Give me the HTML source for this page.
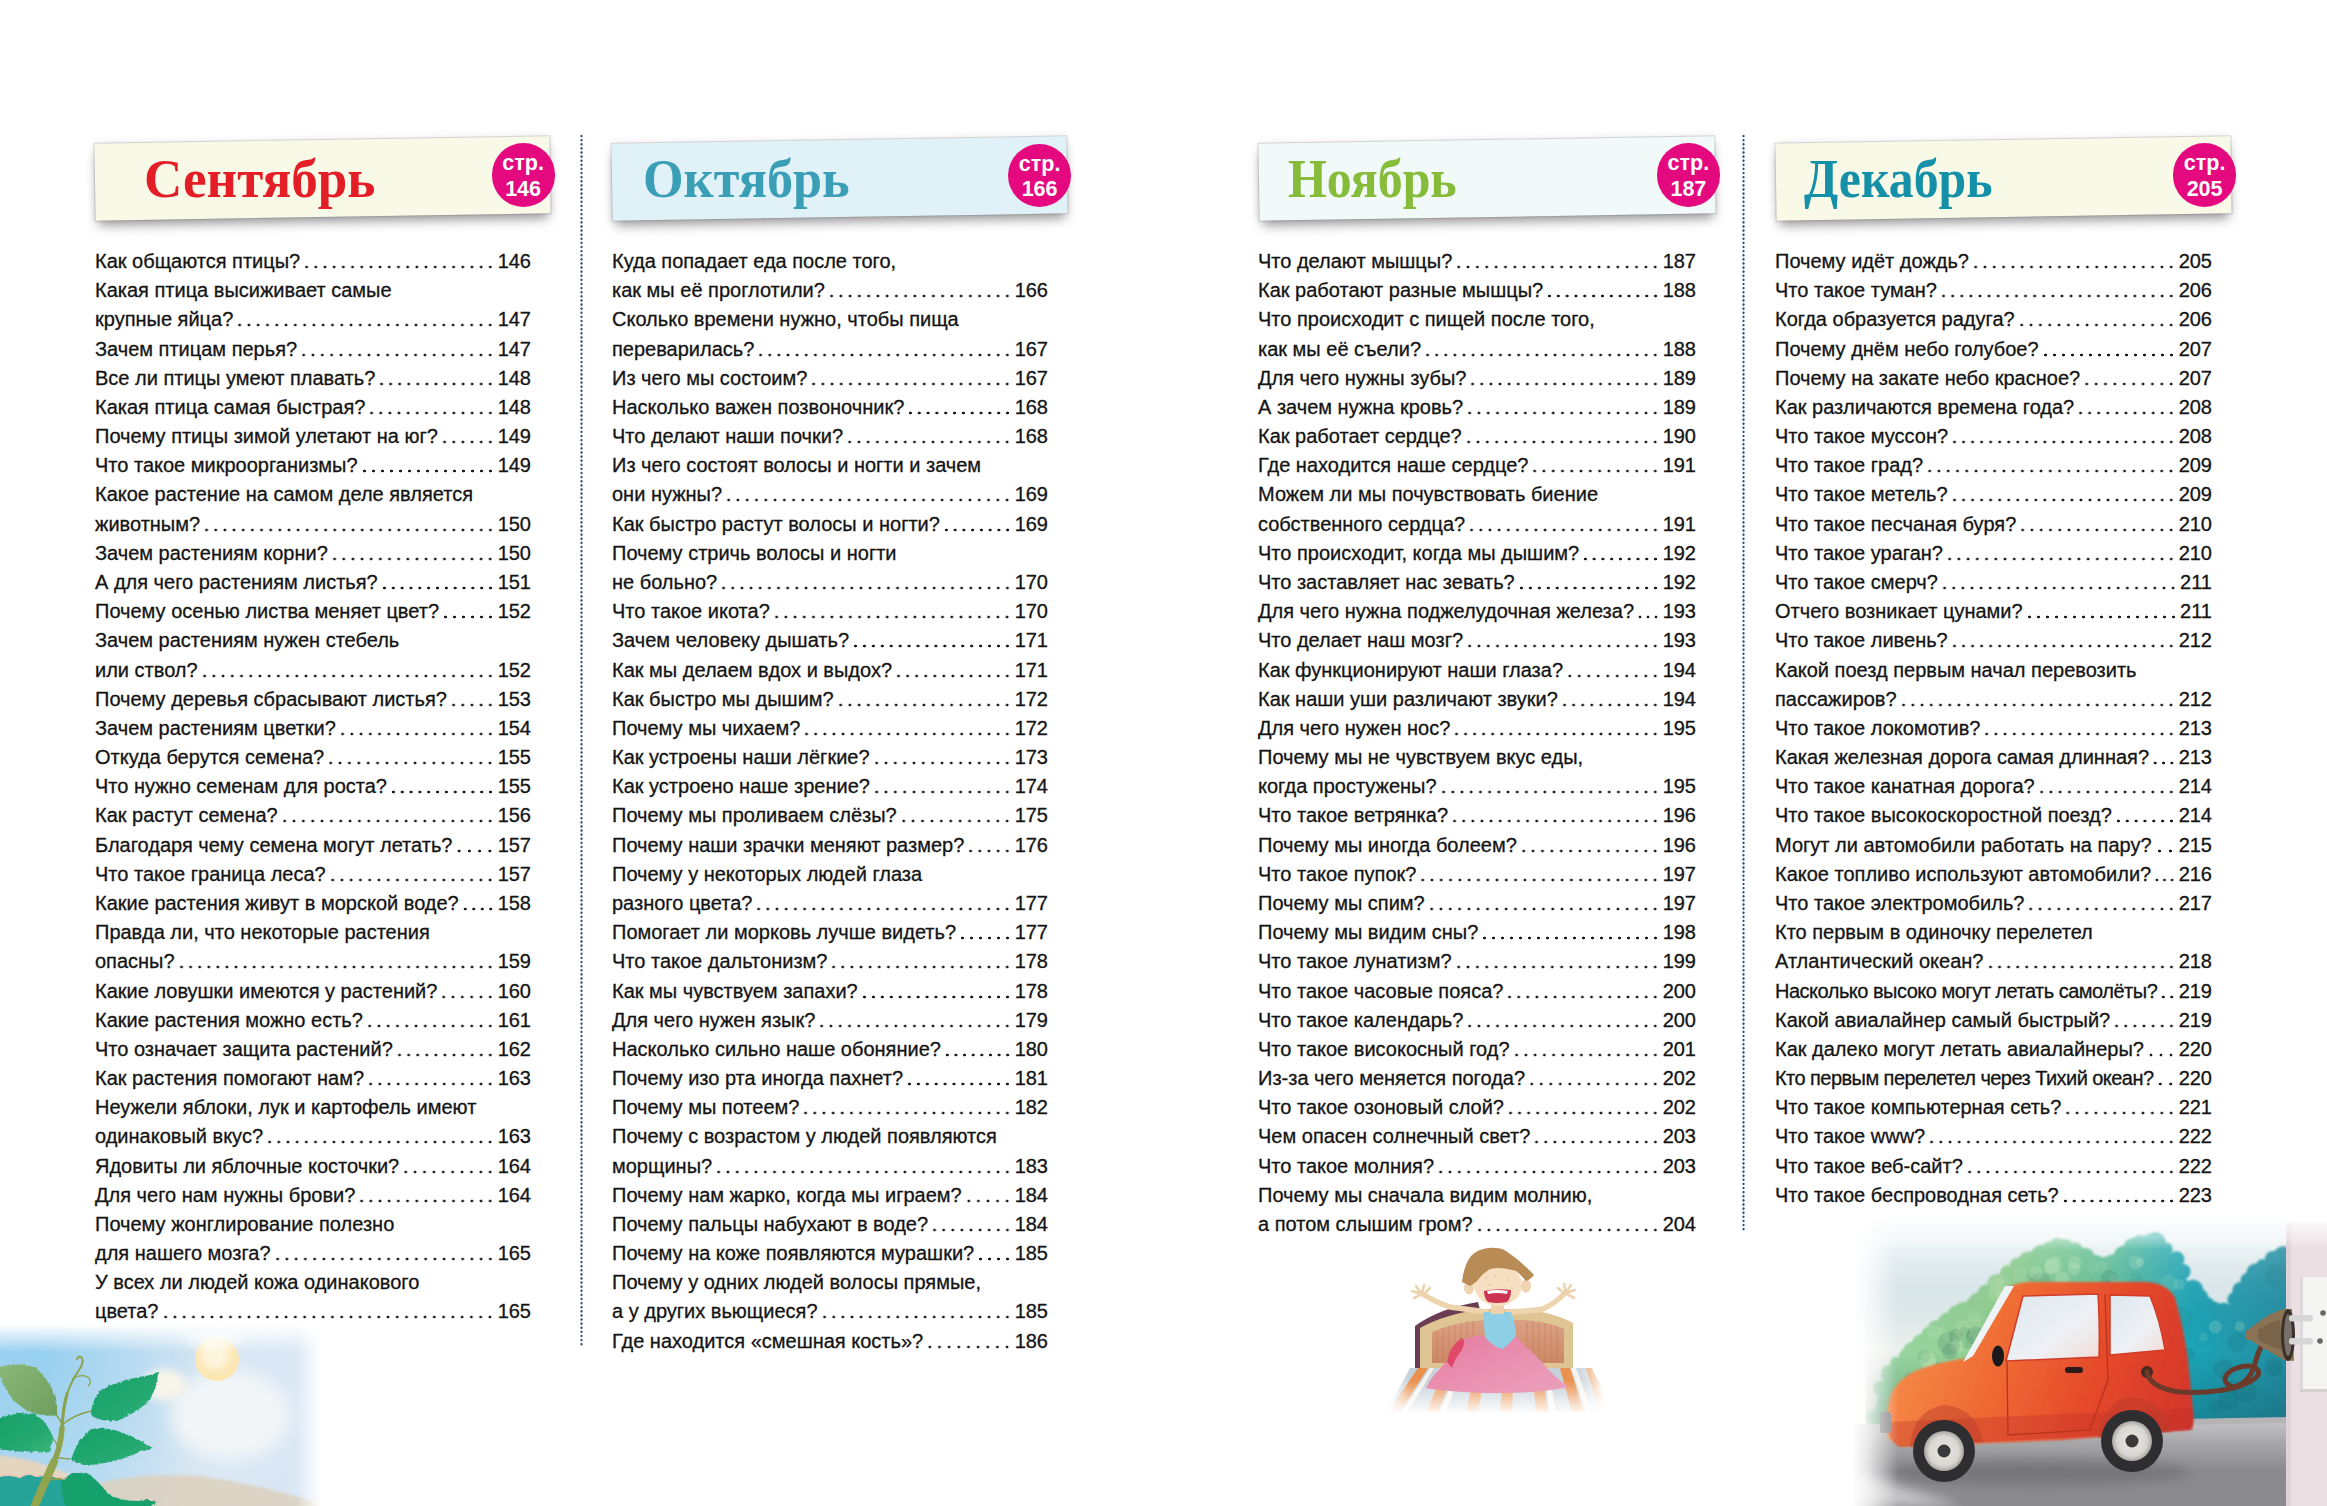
<!DOCTYPE html>
<html><head><meta charset="utf-8">
<style>
html,body{margin:0;padding:0;}
body{width:2327px;height:1506px;overflow:hidden;position:relative;background:#fff;font-family:"Liberation Sans",sans-serif;}
.r{position:absolute;height:29.18px;line-height:29.18px;display:flex;font-size:20px;color:#141414;white-space:nowrap;}
.t{flex:none;-webkit-text-stroke:0.3px #141414;position:relative;z-index:1;}

.d{flex:1;margin:0 2.5px 0 2px;background-image:radial-gradient(circle at center, #1a1a1a 0, #1a1a1a 1.1px, rgba(0,0,0,0) 1.7000000000000002px);background-size:9.2px 4px;background-repeat:round no-repeat;background-position:left 0 top 18px;}
.n{flex:none;-webkit-text-stroke:0.3px #141414;}
.bn{position:absolute;transform:rotate(-0.92deg);box-shadow:0 8px 12px -3px rgba(0,0,0,0.38), 0 0 9px rgba(0,0,0,0.10);outline:1px solid rgba(120,120,120,0.25);}
.tt{position:absolute;font-family:"Liberation Serif",serif;font-weight:bold;line-height:1;transform-origin:0 0;white-space:nowrap;}
.ci{position:absolute;width:63.2px;height:63.2px;border-radius:50%;background:#e5097f;color:#fff;}
.ci span{position:absolute;left:0;width:100%;text-align:center;font-size:21.5px;line-height:1;font-weight:bold;}
.c1{top:10px;}
.c2{top:35.6px;}
.sep{position:absolute;width:3px;background-image:radial-gradient(circle at center,#34506c 0,#34506c 0.8px,rgba(52,80,108,0) 1.5px);background-size:3px 4.12px;background-repeat:repeat-y;}
</style></head><body>
<svg style="position:absolute;left:0;top:1300px" width="340" height="206" viewBox="0 1300 340 206">
<defs>
<filter id="pb8" x="-50%" y="-50%" width="200%" height="200%"><feGaussianBlur stdDeviation="8"/></filter>
<filter id="pb4" x="-50%" y="-50%" width="200%" height="200%"><feGaussianBlur stdDeviation="4"/></filter>
<filter id="pb2" x="-50%" y="-50%" width="200%" height="200%"><feGaussianBlur stdDeviation="1.5"/></filter>
<filter id="pb1" x="-50%" y="-50%" width="200%" height="200%"><feGaussianBlur stdDeviation="0.6"/></filter>
<linearGradient id="psky" x1="0" y1="0" x2="1" y2="0">
<stop offset="0" stop-color="#a6d6f0"/><stop offset="0.35" stop-color="#c4e0f2"/><stop offset="0.6" stop-color="#dce8f2"/><stop offset="0.85" stop-color="#d8e6f4"/><stop offset="1" stop-color="#e0ecf6"/>
</linearGradient>
<linearGradient id="pleafA" x1="0" y1="0" x2="1" y2="1">
<stop offset="0" stop-color="#8ab87a"/><stop offset="1" stop-color="#6d9e5e"/>
</linearGradient>
<linearGradient id="pleaf" x1="0" y1="0" x2="1" y2="1">
<stop offset="0" stop-color="#17a06a"/><stop offset="0.6" stop-color="#22a86f"/><stop offset="1" stop-color="#3cb47c"/>
</linearGradient>
<linearGradient id="ptopfade" gradientUnits="userSpaceOnUse" x1="0" y1="1324" x2="0" y2="1352">
<stop offset="0" stop-color="#fff" stop-opacity="1"/><stop offset="1" stop-color="#fff" stop-opacity="0"/>
</linearGradient>
<linearGradient id="prightfade" gradientUnits="userSpaceOnUse" x1="296" y1="0" x2="322" y2="0">
<stop offset="0" stop-color="#fff" stop-opacity="0"/><stop offset="1" stop-color="#fff" stop-opacity="1"/>
</linearGradient>
<radialGradient id="psky2" gradientUnits="userSpaceOnUse" cx="40" cy="1360" r="280">
<stop offset="0" stop-color="#8ccbee" stop-opacity="0.7"/><stop offset="0.5" stop-color="#a8d4f0" stop-opacity="0.25"/><stop offset="1" stop-color="#ffffff" stop-opacity="0"/>
</radialGradient>
<filter id="pjag" x="-10%" y="-10%" width="120%" height="120%"><feTurbulence type="turbulence" baseFrequency="0.18" numOctaves="1" seed="4" result="t"/><feDisplacementMap in="SourceGraphic" in2="t" scale="3" xChannelSelector="R" yChannelSelector="G"/></filter>
</defs>
<!-- sky -->
<rect x="0" y="1324" width="330" height="190" fill="url(#psky)"/>
<rect x="0" y="1324" width="330" height="190" fill="url(#psky2)"/>
<ellipse cx="230" cy="1415" rx="60" ry="45" fill="#f2f5f7" filter="url(#pb8)"/>
<ellipse cx="165" cy="1385" rx="22" ry="16" fill="#f8f5ea" filter="url(#pb4)"/>
<circle cx="217" cy="1359" r="22" fill="#fbe6b0" filter="url(#pb1)"/>
<circle cx="215" cy="1355" r="15" fill="#fdf5de" filter="url(#pb4)"/>
<ellipse cx="215" cy="1338" rx="30" ry="8" fill="#fff" opacity="0.6" filter="url(#pb4)"/>
<!-- hills -->
<path d="M-5 1455 Q 40 1458 80 1480 L 100 1506 L -5 1506 Z" fill="#e4d5bf" filter="url(#pb2)"/>
<path d="M96 1484 Q 140 1472 200 1476 Q 260 1484 320 1504 L 320 1510 L 96 1510 Z" fill="#ddd1be" opacity="0.85" filter="url(#pb2)"/>
<!-- grass -->
<path d="M-5 1478 Q 10 1474 20 1478 Q 28 1472 36 1477 Q 50 1474 62 1480 Q 70 1495 72 1506 L -5 1506 Z" fill="#25a49a" filter="url(#pb1)"/>
<path d="M-5 1476 Q 10 1473 20 1477 Q 28 1471 36 1476 Q 50 1473 62 1479" fill="none" stroke="#e8c9b8" stroke-width="2" filter="url(#pb1)"/>
<rect x="0" y="1318" width="340" height="36" fill="url(#ptopfade)"/>
<rect x="290" y="1300" width="50" height="210" fill="url(#prightfade)"/>
<!-- stem -->
<path d="M33 1510 Q 44 1484 54 1462" fill="none" stroke="#93a64e" stroke-width="8" stroke-linecap="round"/>
<path d="M54 1462 Q 61 1446 62 1428" fill="none" stroke="#90a44d" stroke-width="5.5" stroke-linecap="round"/>
<path d="M62 1428 Q 63 1408 67 1394" fill="none" stroke="#8da24c" stroke-width="3.2" stroke-linecap="round"/>
<path d="M67 1394 Q 72 1380 79 1370 Q 84 1363 82 1358 Q 79 1355 77 1359" fill="none" stroke="#8da24c" stroke-width="2" stroke-linecap="round"/>
<path d="M63 1424 Q 74 1415 91 1411" fill="none" stroke="#8da24c" stroke-width="1.6"/>
<path d="M63 1426 Q 59 1418 55 1413" fill="none" stroke="#8da24c" stroke-width="1.6"/>
<path d="M72 1379 Q 82 1373 89 1378 Q 92 1383 88 1386" fill="none" stroke="#8da24c" stroke-width="1.2"/>
<path d="M55 1458 Q 62 1458 70 1459" fill="none" stroke="#8da24c" stroke-width="1.6"/>
<path d="M44 1482 Q 52 1478 62 1479" fill="none" stroke="#8da24c" stroke-width="1.8"/>
<path d="M60 1452 Q 56 1440 50 1436" fill="none" stroke="#8da24c" stroke-width="1.3"/>
<!-- leaf A -->
<path d="M-2 1366 Q 14 1360 35 1367 Q 49 1380 55 1397 Q 57 1410 56 1414 Q 46 1416 28 1411 Q 9 1400 3 1384 Q 0 1377 -2 1374 Z" fill="url(#pleafA)" filter="url(#pjag)"/>
<!-- leaf C -->
<path d="M-2 1418 Q 13 1411 33 1413 Q 46 1420 52 1436 Q 51 1446 49 1451 Q 33 1452 11 1450 Q 3 1449 -2 1447 Z" fill="url(#pleaf)" filter="url(#pjag)"/>
<!-- leaf B -->
<path d="M90 1412 Q 91 1398 100 1389 Q 116 1380 138 1376 Q 150 1374 157 1371 Q 157 1388 146 1402 Q 133 1413 116 1420 Q 100 1421 91 1415 Z" fill="url(#pleaf)" filter="url(#pjag)"/>
<!-- leaf D -->
<path d="M70 1459 Q 75 1440 90 1428 Q 110 1425 132 1436 Q 143 1442 152 1447 Q 138 1451 121 1458 Q 99 1464 83 1464 Q 74 1462 70 1459 Z" fill="url(#pleaf)" filter="url(#pjag)"/>
<!-- leaf E -->
<path d="M60 1480 Q 70 1470 86 1472 Q 98 1480 106 1492 Q 118 1500 136 1500 Q 148 1498 156 1500 Q 150 1504 146 1510 L 66 1510 Q 60 1496 60 1480 Z" fill="#17a06c" filter="url(#pjag)"/>
</svg>
<svg style="position:absolute;left:1370px;top:1230px" width="250" height="200" viewBox="1370 1230 250 200">
<defs>
<filter id="kb1" x="-50%" y="-50%" width="200%" height="200%"><feGaussianBlur stdDeviation="0.6"/></filter>
<filter id="kb2" x="-50%" y="-50%" width="200%" height="200%"><feGaussianBlur stdDeviation="1.5"/></filter>
<linearGradient id="kfade" gradientUnits="userSpaceOnUse" x1="0" y1="1380" x2="0" y2="1415">
<stop offset="0" stop-color="#fff" stop-opacity="0"/><stop offset="1" stop-color="#fff" stop-opacity="1"/>
</linearGradient>
<linearGradient id="kfadeL" gradientUnits="userSpaceOnUse" x1="1385" y1="0" x2="1410" y2="0">
<stop offset="0" stop-color="#fff" stop-opacity="1"/><stop offset="1" stop-color="#fff" stop-opacity="0"/>
</linearGradient>
<linearGradient id="kfadeR" gradientUnits="userSpaceOnUse" x1="1575" y1="0" x2="1605" y2="0">
<stop offset="0" stop-color="#fff" stop-opacity="0"/><stop offset="1" stop-color="#fff" stop-opacity="1"/>
</linearGradient>
<linearGradient id="kpink" x1="0" y1="0" x2="1" y2="1">
<stop offset="0" stop-color="#e47aa0"/><stop offset="0.6" stop-color="#ea94b2"/><stop offset="1" stop-color="#eaa0ba"/>
</linearGradient>
<linearGradient id="kpanel" x1="0" y1="0" x2="0" y2="1">
<stop offset="0" stop-color="#dca184"/><stop offset="1" stop-color="#cc8866"/>
</linearGradient>
</defs>
<!-- floor -->
<g filter="url(#kb1)">
<path d="M1410 1368 L1590 1368 L1602 1385 L1600 1412 L1386 1412 Z" fill="#c6d1d9"/>
<path d="M1418 1368 L1428 1368 L1400 1412 L1388 1412 Z" fill="#e9914e"/>
<path d="M1430 1368 L1434 1368 L1408 1412 L1402 1412 Z" fill="#f6f3ec"/>
<path d="M1446 1368 L1456 1368 L1438 1412 L1426 1412 Z" fill="#e9914e"/>
<path d="M1458 1368 L1462 1368 L1446 1412 L1440 1412 Z" fill="#f6f3ec"/>
<path d="M1476 1368 L1486 1368 L1478 1412 L1466 1412 Z" fill="#e9914e"/>
<path d="M1504 1368 L1514 1368 L1512 1412 L1500 1412 Z" fill="#e9914e"/>
<path d="M1532 1368 L1542 1368 L1548 1412 L1536 1412 Z" fill="#e9914e"/>
<path d="M1543 1368 L1548 1368 L1556 1412 L1550 1412 Z" fill="#f6f3ec"/>
<path d="M1560 1368 L1570 1368 L1584 1412 L1572 1412 Z" fill="#e9914e"/>
<path d="M1571 1368 L1576 1368 L1592 1412 L1586 1412 Z" fill="#f6f3ec"/>
<path d="M1586 1368 L1592 1368 L1606 1400 L1600 1412 Z" fill="#e9914e"/>
</g>
<rect x="1380" y="1375" width="235" height="45" fill="url(#kfade)"/>
<rect x="1380" y="1360" width="35" height="60" fill="url(#kfadeL)"/>
<rect x="1570" y="1360" width="45" height="60" fill="url(#kfadeR)"/>
<!-- headboard -->
<g filter="url(#kb1)">
<path d="M1415 1368 L1415 1326 Q 1440 1308 1478 1302 L 1480 1310 Q 1445 1316 1421 1330 L 1421 1368 Z" fill="#6b3c52"/>
<path d="M1420 1368 L1420 1328 Q 1445 1314 1483 1309 L 1523 1309 Q 1555 1313 1573 1323 L 1573 1368 Z" fill="#dec593"/>
<path d="M1432 1363 L1432 1332 Q 1455 1322 1485 1320 L 1522 1320 Q 1550 1322 1564 1329 L 1564 1363 Z" fill="url(#kpanel)"/>
<g stroke="#c07858" stroke-width="1" opacity="0.5">
<line x1="1437" y1="1331" x2="1437" y2="1362"/><line x1="1443" y1="1328" x2="1443" y2="1362"/><line x1="1449" y1="1326" x2="1449" y2="1362"/><line x1="1455" y1="1325" x2="1455" y2="1362"/><line x1="1461" y1="1323" x2="1461" y2="1362"/><line x1="1467" y1="1322" x2="1467" y2="1362"/><line x1="1473" y1="1321" x2="1473" y2="1362"/>
<line x1="1527" y1="1321" x2="1527" y2="1362"/><line x1="1533" y1="1321" x2="1533" y2="1362"/><line x1="1539" y1="1322" x2="1539" y2="1362"/><line x1="1545" y1="1323" x2="1545" y2="1362"/><line x1="1551" y1="1324" x2="1551" y2="1362"/><line x1="1557" y1="1326" x2="1557" y2="1362"/>
</g>
</g>
<!-- arms -->
<g filter="url(#kb1)" stroke="#eed4ae" stroke-linecap="round" fill="none">
<path d="M1486 1312 Q 1465 1309 1450 1307 Q 1435 1302 1421 1293" stroke-width="5.5"/>
<path d="M1508 1312 Q 1530 1311 1543 1309 Q 1556 1303 1566 1292" stroke-width="5.5"/>
<path d="M1421 1294 L1416 1286 M1421 1294 L1412 1291 M1422 1294 L1424 1285 M1423 1295 L1430 1288 M1420 1295 L1414 1298" stroke-width="2.6"/>
<path d="M1566 1293 L1564 1284 M1566 1293 L1571 1285 M1566 1293 L1575 1290 M1565 1294 L1558 1288 M1567 1294 L1574 1298" stroke-width="2.6"/>
</g>
<!-- torso -->
<path d="M1483 1312 L1511 1312 Q 1516 1325 1516 1338 L 1502 1350 Q 1488 1345 1485 1338 Z" fill="#8ecfe6" filter="url(#kb1)"/>
<rect x="1491" y="1300" width="13" height="14" fill="#efd2ac"/>
<!-- blanket -->
<path d="M1426 1388 Q 1432 1376 1440 1369 Q 1447 1360 1453 1354 Q 1457 1344 1465 1339 Q 1476 1335 1484 1336 Q 1494 1348 1503 1349 Q 1510 1344 1516 1336 Q 1523 1345 1530 1350 Q 1540 1360 1549 1370 Q 1558 1380 1569 1387 Q 1540 1393 1500 1393 Q 1455 1393 1426 1388 Z" fill="url(#kpink)" filter="url(#kb1)"/>
<path d="M1447 1362 Q 1450 1345 1462 1338 Q 1466 1340 1462 1350 Q 1455 1358 1452 1368 Z" fill="#e0486a" filter="url(#kb1)"/>
<!-- ears -->
<ellipse cx="1469" cy="1288" rx="5" ry="6.5" fill="#f0d4b0"/>
<ellipse cx="1526" cy="1286" rx="5" ry="6.5" fill="#f0d4b0"/>
<!-- face -->
<ellipse cx="1498" cy="1285" rx="24" ry="21" fill="#f5dfc0" filter="url(#kb1)"/>
<!-- hair -->
<path d="M1462 1282 Q 1464 1265 1471 1256 Q 1478 1249 1488 1248 Q 1500 1247 1506 1251 Q 1520 1260 1534 1275 Q 1530 1280 1526 1281 Q 1520 1274 1516 1271 Q 1500 1266 1490 1269 Q 1482 1274 1478 1280 Q 1474 1284 1470 1286 Z" fill="#b98b55" filter="url(#kb1)"/>
<!-- spots -->
<g fill="#d8a888" opacity="0.6"><circle cx="1486" cy="1278" r="0.9"/><circle cx="1495" cy="1276" r="0.9"/><circle cx="1508" cy="1280" r="0.9"/><circle cx="1490" cy="1285" r="0.9"/><circle cx="1512" cy="1288" r="0.9"/></g>
<!-- mouth -->
<path d="M1484 1291 Q 1497 1288 1511 1290 Q 1511 1298 1507 1302 Q 1497 1304 1488 1302 Q 1484 1298 1484 1291 Z" fill="#cc3350"/>
<path d="M1487 1291 Q 1497 1289 1508 1291 L 1507 1294 Q 1497 1292 1488 1294 Z" fill="#fafafa"/>
</svg>
<svg style="position:absolute;left:1840px;top:1200px" width="487" height="306" viewBox="1840 1200 487 306">
<defs>
<filter id="cb1" x="-20%" y="-20%" width="140%" height="140%"><feGaussianBlur stdDeviation="0.8"/></filter>
<filter id="cb2" x="-20%" y="-20%" width="140%" height="140%"><feGaussianBlur stdDeviation="1.5"/></filter>
<filter id="cb6" x="-50%" y="-50%" width="200%" height="200%"><feGaussianBlur stdDeviation="6"/></filter>
<linearGradient id="csky" x1="0" y1="0" x2="0" y2="1">
<stop offset="0" stop-color="#f0f5f6"/><stop offset="0.25" stop-color="#e2eef2"/><stop offset="0.5" stop-color="#eef2ec"/><stop offset="0.8" stop-color="#f2f1e4"/><stop offset="1" stop-color="#eeeee4"/>
</linearGradient>
<linearGradient id="ctrees" gradientUnits="userSpaceOnUse" x1="1880" y1="0" x2="2290" y2="0">
<stop offset="0" stop-color="#9ad6a4"/><stop offset="0.3" stop-color="#92d08e"/><stop offset="0.55" stop-color="#62c096"/><stop offset="0.75" stop-color="#1ea6b8"/><stop offset="1" stop-color="#248da2"/>
</linearGradient>
<linearGradient id="ctreesv" gradientUnits="userSpaceOnUse" x1="0" y1="1240" x2="0" y2="1425">
<stop offset="0" stop-color="#ffffff" stop-opacity="0.2"/><stop offset="0.6" stop-color="#0a3a44" stop-opacity="0.0"/><stop offset="1" stop-color="#0a3a44" stop-opacity="0.3"/>
</linearGradient>
<linearGradient id="croad" gradientUnits="userSpaceOnUse" x1="0" y1="1420" x2="0" y2="1506">
<stop offset="0" stop-color="#c6c6c8"/><stop offset="0.25" stop-color="#a8a8aa"/><stop offset="0.6" stop-color="#8a8a8d"/><stop offset="1" stop-color="#8c8c8f"/>
</linearGradient>
<linearGradient id="cbody" gradientUnits="userSpaceOnUse" x1="1890" y1="1300" x2="2195" y2="1420">
<stop offset="0" stop-color="#f7934f"/><stop offset="0.35" stop-color="#f06d35"/><stop offset="0.7" stop-color="#e4472a"/><stop offset="1" stop-color="#d2352a"/>
</linearGradient>
<linearGradient id="cleft" gradientUnits="userSpaceOnUse" x1="1852" y1="0" x2="1898" y2="0">
<stop offset="0" stop-color="#fff" stop-opacity="1"/><stop offset="0.35" stop-color="#fff" stop-opacity="0.75"/><stop offset="1" stop-color="#fff" stop-opacity="0"/>
</linearGradient>
<linearGradient id="ctop" gradientUnits="userSpaceOnUse" x1="0" y1="1215" x2="0" y2="1250">
<stop offset="0" stop-color="#fff" stop-opacity="1"/><stop offset="1" stop-color="#fff" stop-opacity="0"/>
</linearGradient>
<radialGradient id="cwheel" cx="0.5" cy="0.5" r="0.5">
<stop offset="0" stop-color="#eceae4"/><stop offset="0.75" stop-color="#d8d6d0"/><stop offset="1" stop-color="#a8a6a0"/>
</radialGradient>
<linearGradient id="cwin" x1="0" y1="0" x2="1" y2="1">
<stop offset="0" stop-color="#dde8f0"/><stop offset="0.6" stop-color="#eef0f4"/><stop offset="1" stop-color="#f0dcd8"/>
</linearGradient>
</defs>
<rect x="1850" y="1215" width="440" height="291" fill="url(#csky)"/>
<g filter="url(#cb1)"><g fill="url(#ctrees)"><circle cx="1872.0" cy="1417.3" r="7.2"/><circle cx="1880.7" cy="1388.5" r="7.8"/><circle cx="1889.7" cy="1374.2" r="9.1"/><circle cx="1896.1" cy="1362.8" r="6.1"/><circle cx="1906.3" cy="1355.9" r="7.3"/><circle cx="1913.4" cy="1352.8" r="11.0"/><circle cx="1921.8" cy="1344.3" r="10.2"/><circle cx="1930.2" cy="1335.4" r="9.2"/><circle cx="1936.9" cy="1329.1" r="9.2"/><circle cx="1947.3" cy="1321.0" r="8.6"/><circle cx="1957.0" cy="1314.6" r="9.4"/><circle cx="1963.3" cy="1311.7" r="9.8"/><circle cx="1972.2" cy="1305.9" r="7.5"/><circle cx="1978.4" cy="1302.8" r="10.3"/><circle cx="1986.8" cy="1294.0" r="9.6"/><circle cx="1997.1" cy="1283.8" r="9.6"/><circle cx="2007.8" cy="1273.3" r="8.0"/><circle cx="2017.8" cy="1265.6" r="8.2"/><circle cx="2028.4" cy="1261.8" r="10.4"/><circle cx="2034.9" cy="1256.4" r="6.7"/><circle cx="2042.0" cy="1255.5" r="10.8"/><circle cx="2050.2" cy="1250.4" r="9.1"/><circle cx="2057.7" cy="1246.3" r="8.5"/><circle cx="2065.6" cy="1246.9" r="7.8"/><circle cx="2074.5" cy="1251.2" r="8.9"/><circle cx="2085.1" cy="1257.2" r="9.4"/><circle cx="2095.7" cy="1265.2" r="10.3"/><circle cx="2106.7" cy="1265.8" r="9.4"/><circle cx="2113.5" cy="1264.6" r="10.3"/><circle cx="2124.3" cy="1255.9" r="10.5"/><circle cx="2133.2" cy="1247.4" r="9.6"/><circle cx="2140.2" cy="1245.1" r="10.2"/><circle cx="2149.1" cy="1241.6" r="7.4"/><circle cx="2155.4" cy="1242.5" r="10.3"/><circle cx="2166.3" cy="1248.9" r="6.4"/><circle cx="2176.3" cy="1259.3" r="8.1"/><circle cx="2183.1" cy="1271.6" r="7.5"/><circle cx="2192.9" cy="1290.1" r="10.4"/><circle cx="2199.2" cy="1297.7" r="9.1"/><circle cx="2205.4" cy="1306.0" r="9.6"/><circle cx="2213.0" cy="1311.6" r="10.4"/><circle cx="2223.9" cy="1311.2" r="8.5"/><circle cx="2234.9" cy="1299.6" r="7.5"/><circle cx="2241.3" cy="1290.7" r="9.0"/><circle cx="2247.5" cy="1280.1" r="7.0"/><circle cx="2255.5" cy="1272.7" r="9.1"/><circle cx="2262.3" cy="1265.3" r="6.2"/><circle cx="2272.6" cy="1258.6" r="7.6"/><circle cx="2283.4" cy="1256.6" r="10.5"/><polygon points="1866,1430 1870,1426 1880,1391 1895,1366 1915,1351 1935,1331 1955,1316 1975,1306 1995,1286 2015,1268 2040,1256 2060,1246 2080,1254 2100,1268 2115,1264 2135,1246 2155,1242 2175,1258 2190,1286 2205,1306 2220,1316 2235,1301 2250,1278 2270,1261 2290,1254 2290,1430"/></g></g>
<g><circle cx="2024.7" cy="1294.6" r="9.6" fill="#0c4a50" opacity="0.06"/><circle cx="2106.3" cy="1328.2" r="5.4" fill="#0c4a50" opacity="0.10"/><circle cx="1914.4" cy="1386.3" r="5.5" fill="#0c4a50" opacity="0.06"/><circle cx="2063.4" cy="1391.7" r="5.9" fill="#0c4a50" opacity="0.07"/><circle cx="2141.6" cy="1411.3" r="9.0" fill="#0c4a50" opacity="0.09"/><circle cx="2275.9" cy="1275.0" r="11.0" fill="#0c4a50" opacity="0.08"/><circle cx="1955.5" cy="1336.0" r="7.2" fill="#0c4a50" opacity="0.13"/><circle cx="1969.6" cy="1377.2" r="9.5" fill="#0c4a50" opacity="0.09"/><circle cx="2110.9" cy="1283.3" r="5.4" fill="#0c4a50" opacity="0.07"/><circle cx="2162.0" cy="1326.4" r="7.2" fill="#0c4a50" opacity="0.11"/><circle cx="2074.5" cy="1308.5" r="10.6" fill="#0c4a50" opacity="0.12"/><circle cx="1994.0" cy="1367.2" r="8.7" fill="#0c4a50" opacity="0.14"/><circle cx="2180.8" cy="1318.8" r="11.9" fill="#0c4a50" opacity="0.06"/><circle cx="2061.0" cy="1380.0" r="6.1" fill="#0c4a50" opacity="0.10"/><circle cx="1915.1" cy="1400.1" r="10.4" fill="#0c4a50" opacity="0.11"/><circle cx="2237.1" cy="1342.3" r="9.9" fill="#0c4a50" opacity="0.11"/><circle cx="2123.3" cy="1336.0" r="10.9" fill="#0c4a50" opacity="0.14"/><circle cx="2082.5" cy="1367.9" r="5.4" fill="#0c4a50" opacity="0.12"/><circle cx="2149.1" cy="1418.8" r="10.8" fill="#0c4a50" opacity="0.08"/><circle cx="2048.5" cy="1367.2" r="5.2" fill="#0c4a50" opacity="0.10"/><circle cx="1964.7" cy="1331.8" r="5.4" fill="#0c4a50" opacity="0.13"/><circle cx="1949.8" cy="1351.5" r="7.7" fill="#0c4a50" opacity="0.14"/><circle cx="1931.0" cy="1378.1" r="8.8" fill="#0c4a50" opacity="0.14"/><circle cx="2215.4" cy="1406.7" r="6.9" fill="#0c4a50" opacity="0.09"/><circle cx="2038.1" cy="1402.2" r="11.7" fill="#0c4a50" opacity="0.07"/><circle cx="1967.8" cy="1342.1" r="6.6" fill="#0c4a50" opacity="0.10"/><circle cx="2126.8" cy="1303.8" r="5.0" fill="#0c4a50" opacity="0.09"/><circle cx="2042.2" cy="1352.3" r="11.7" fill="#0c4a50" opacity="0.12"/><circle cx="2098.5" cy="1364.9" r="9.7" fill="#0c4a50" opacity="0.06"/><circle cx="2246.3" cy="1392.0" r="11.1" fill="#0c4a50" opacity="0.13"/><circle cx="2051.1" cy="1323.5" r="5.7" fill="#0c4a50" opacity="0.11"/><circle cx="1924.0" cy="1355.7" r="6.5" fill="#0c4a50" opacity="0.07"/><circle cx="2030.9" cy="1277.3" r="5.0" fill="#0c4a50" opacity="0.07"/><circle cx="1939.1" cy="1367.1" r="5.2" fill="#0c4a50" opacity="0.14"/><circle cx="2136.4" cy="1279.3" r="6.8" fill="#0c4a50" opacity="0.08"/><circle cx="2040.2" cy="1284.0" r="10.9" fill="#0c4a50" opacity="0.15"/><circle cx="2079.4" cy="1338.8" r="5.6" fill="#0c4a50" opacity="0.06"/><circle cx="2031.9" cy="1308.9" r="10.8" fill="#0c4a50" opacity="0.07"/><circle cx="1908.9" cy="1417.3" r="8.7" fill="#0c4a50" opacity="0.06"/><circle cx="2109.1" cy="1278.5" r="8.7" fill="#0c4a50" opacity="0.15"/><circle cx="2232.4" cy="1387.4" r="6.8" fill="#0c4a50" opacity="0.09"/><circle cx="1964.3" cy="1397.3" r="8.7" fill="#0c4a50" opacity="0.13"/><circle cx="2026.9" cy="1304.4" r="10.7" fill="#0c4a50" opacity="0.15"/><circle cx="2228.3" cy="1400.0" r="10.7" fill="#0c4a50" opacity="0.12"/><circle cx="1987.3" cy="1363.4" r="7.5" fill="#0c4a50" opacity="0.05"/><circle cx="1910.8" cy="1379.1" r="6.8" fill="#0c4a50" opacity="0.12"/><circle cx="2268.3" cy="1337.9" r="11.6" fill="#0c4a50" opacity="0.15"/><circle cx="2267.7" cy="1326.0" r="6.5" fill="#0c4a50" opacity="0.07"/><circle cx="1975.7" cy="1335.9" r="9.4" fill="#0c4a50" opacity="0.14"/><circle cx="2223.6" cy="1368.7" r="9.6" fill="#0c4a50" opacity="0.13"/><circle cx="1932.6" cy="1393.6" r="11.4" fill="#0c4a50" opacity="0.13"/><circle cx="2188.8" cy="1353.6" r="6.2" fill="#0c4a50" opacity="0.13"/><circle cx="2028.0" cy="1390.3" r="11.8" fill="#0c4a50" opacity="0.09"/><circle cx="2054.5" cy="1411.4" r="10.1" fill="#0c4a50" opacity="0.07"/><circle cx="1948.9" cy="1343.2" r="11.3" fill="#0c4a50" opacity="0.13"/><circle cx="1956.3" cy="1403.4" r="11.9" fill="#0c4a50" opacity="0.12"/><circle cx="2034.9" cy="1351.1" r="5.9" fill="#0c4a50" opacity="0.05"/><circle cx="2273.8" cy="1367.0" r="8.7" fill="#0c4a50" opacity="0.14"/><circle cx="2067.0" cy="1399.2" r="10.8" fill="#0c4a50" opacity="0.07"/><circle cx="1997.0" cy="1330.4" r="6.7" fill="#0c4a50" opacity="0.11"/><circle cx="1999.9" cy="1295.3" r="4.7" fill="#e8ffd0" opacity="0.19"/><circle cx="2036.2" cy="1272.9" r="6.9" fill="#e8ffd0" opacity="0.19"/><circle cx="2061.9" cy="1277.9" r="6.5" fill="#e8ffd0" opacity="0.14"/><circle cx="2101.6" cy="1267.2" r="6.2" fill="#e8ffd0" opacity="0.10"/><circle cx="1901.5" cy="1388.1" r="4.9" fill="#e8ffd0" opacity="0.14"/><circle cx="2179.2" cy="1284.3" r="5.6" fill="#e8ffd0" opacity="0.14"/><circle cx="2113.8" cy="1290.8" r="4.5" fill="#e8ffd0" opacity="0.15"/><circle cx="1995.7" cy="1294.1" r="7.9" fill="#e8ffd0" opacity="0.14"/><circle cx="2116.3" cy="1288.5" r="8.6" fill="#e8ffd0" opacity="0.13"/><circle cx="2135.8" cy="1262.5" r="6.6" fill="#e8ffd0" opacity="0.16"/><circle cx="2074.2" cy="1269.3" r="6.4" fill="#e8ffd0" opacity="0.19"/><circle cx="2169.2" cy="1283.0" r="8.7" fill="#e8ffd0" opacity="0.11"/><circle cx="2115.4" cy="1295.6" r="8.2" fill="#e8ffd0" opacity="0.10"/><circle cx="1946.8" cy="1336.6" r="4.4" fill="#e8ffd0" opacity="0.11"/><circle cx="1928.2" cy="1360.3" r="7.9" fill="#e8ffd0" opacity="0.19"/><circle cx="1959.5" cy="1337.8" r="7.3" fill="#e8ffd0" opacity="0.10"/><circle cx="2239.9" cy="1326.4" r="5.1" fill="#e8ffd0" opacity="0.19"/><circle cx="2053.3" cy="1265.4" r="8.9" fill="#e8ffd0" opacity="0.18"/><circle cx="1962.2" cy="1326.5" r="6.6" fill="#e8ffd0" opacity="0.12"/><circle cx="1975.4" cy="1315.8" r="7.6" fill="#e8ffd0" opacity="0.08"/><circle cx="2113.3" cy="1278.9" r="4.1" fill="#e8ffd0" opacity="0.12"/><circle cx="2140.2" cy="1261.9" r="4.3" fill="#e8ffd0" opacity="0.20"/><circle cx="2203.5" cy="1337.0" r="4.5" fill="#e8ffd0" opacity="0.11"/><circle cx="1915.2" cy="1377.0" r="5.4" fill="#e8ffd0" opacity="0.10"/><circle cx="2062.6" cy="1277.9" r="8.1" fill="#e8ffd0" opacity="0.11"/><circle cx="1957.5" cy="1345.9" r="6.9" fill="#e8ffd0" opacity="0.16"/><circle cx="1934.4" cy="1332.6" r="7.4" fill="#e8ffd0" opacity="0.13"/><circle cx="1927.9" cy="1370.0" r="7.2" fill="#e8ffd0" opacity="0.18"/><circle cx="1932.2" cy="1362.7" r="4.3" fill="#e8ffd0" opacity="0.18"/><circle cx="2074.7" cy="1262.8" r="6.8" fill="#e8ffd0" opacity="0.19"/><circle cx="2003.1" cy="1282.2" r="6.6" fill="#e8ffd0" opacity="0.11"/><circle cx="1942.1" cy="1330.3" r="4.3" fill="#e8ffd0" opacity="0.10"/><circle cx="2020.1" cy="1275.2" r="7.8" fill="#e8ffd0" opacity="0.11"/><circle cx="2092.5" cy="1268.0" r="5.7" fill="#e8ffd0" opacity="0.08"/><circle cx="1996.4" cy="1284.3" r="7.7" fill="#e8ffd0" opacity="0.15"/><circle cx="1972.9" cy="1322.6" r="8.7" fill="#e8ffd0" opacity="0.09"/><circle cx="2215.3" cy="1327.0" r="6.5" fill="#e8ffd0" opacity="0.18"/><circle cx="2051.3" cy="1267.1" r="7.4" fill="#e8ffd0" opacity="0.20"/><circle cx="2031.9" cy="1288.0" r="7.5" fill="#e8ffd0" opacity="0.16"/><circle cx="2055.8" cy="1259.3" r="4.3" fill="#e8ffd0" opacity="0.10"/></g>
<rect x="1866" y="1235" width="424" height="195" fill="url(#ctreesv)"/>
<path d="M1850 1425 L2290 1418 L2290 1506 L1850 1506 Z" fill="url(#croad)"/>
<path d="M1850 1425 L2290 1417 L2290 1423 L1850 1431 Z" fill="#b4b4b6"/>
<rect x="1840" y="1200" width="487" height="50" fill="url(#ctop)"/>
<ellipse cx="2040" cy="1472" rx="150" ry="13" fill="#5e5e62" opacity="0.45" filter="url(#cb6)"/>
<path d="M1888 1438 Q 1884 1408 1893 1390 Q 1902 1376 1920 1369 Q 1940 1362 1967 1358 L 2004 1292 Q 2009 1283 2030 1282 L 2148 1282 Q 2168 1284 2175 1298 Q 2184 1330 2188 1360 Q 2191 1390 2193 1410 Q 2195 1426 2190 1430 L 2060 1440 L 1900 1447 Z" fill="url(#cbody)" filter="url(#cb1)"/>
<path d="M1888 1422 L2193 1408 L2193 1430 L1900 1447 Q 1888 1442 1888 1422 Z" fill="#c0302a" opacity="0.35"/>
<path d="M1963 1362 L2005 1286 L2014 1286 L1973 1356 Z" fill="#eef3f8"/>
<path d="M2023 1296 L2098 1294 Q 2100 1330 2099 1357 L2006 1361 Z" fill="url(#cwin)" stroke="#cf3c28" stroke-width="1.5"/>
<path d="M2110 1295 L2150 1296 Q 2160 1320 2165 1350 L2110 1355 Z" fill="url(#cwin)" stroke="#cf3c28" stroke-width="1.5"/>
<path d="M2007 1362 L2008 1435 L2090 1430 L2108 1380 L2105 1294" fill="none" stroke="#b8321f" stroke-width="1.3"/>
<ellipse cx="1998" cy="1356" rx="6" ry="10.5" fill="#1a1a1a"/>
<rect x="2065" y="1367" width="18" height="6" rx="3" fill="#2a1a1a"/>
<circle cx="2147" cy="1372" r="6" fill="#4a2a20"/>
<rect x="1880" y="1412" width="11" height="21" rx="3" fill="#8a8a8c"/>
<path d="M1910 1447 Q 1913 1410 1944 1405 Q 1977 1408 1983 1442 Z" fill="#b83a2a" opacity="0.45"/>
<path d="M2098 1438 Q 2103 1400 2132 1397 Q 2163 1399 2171 1432 Z" fill="#b83a2a" opacity="0.45"/>
<circle cx="1944" cy="1451" r="31" fill="#2e2e30"/>
<circle cx="1944" cy="1451" r="20" fill="url(#cwheel)"/>
<circle cx="1944" cy="1451" r="6.5" fill="#3a3a3a"/>
<circle cx="2132" cy="1441" r="31" fill="#2e2e30"/>
<circle cx="2132" cy="1441" r="20" fill="url(#cwheel)"/>
<circle cx="2132" cy="1441" r="6.5" fill="#3a3a3a"/>
<path d="M2147 1372 Q 2150 1388 2180 1392 Q 2215 1394 2240 1386 Q 2262 1378 2258 1370 Q 2250 1362 2232 1370 Q 2218 1380 2232 1387 Q 2250 1385 2256 1360 Q 2260 1345 2268 1338" fill="none" stroke="#6b3a2a" stroke-width="5" stroke-linecap="round"/>
<rect x="1840" y="1200" width="70" height="306" fill="url(#cleft)"/>
<path d="M1850 1470 L1960 1506 L1850 1506 Z" fill="#fff" opacity="0.5" filter="url(#cb6)"/>
<path d="M2286 1222 L2327 1222 L2327 1506 L2290 1506 Z" fill="#ebdfe4"/>
<rect x="2286" y="1222" width="5" height="284" fill="#e0d2d8"/>
<rect x="2286" y="1215" width="41" height="30" fill="url(#ctop)"/>
<rect x="2300" y="1277" width="30" height="115" fill="#f4f4f2"/>
<rect x="2300" y="1277" width="3" height="115" fill="#dcd8da"/>
<rect x="2300" y="1389" width="30" height="3" fill="#d4d0d2"/>
<circle cx="2323" cy="1313" r="2.8" fill="#666"/>
<circle cx="2320" cy="1341" r="2.8" fill="#666"/>
<path d="M2246 1331 L2252 1327 Q 2270 1312 2284 1309 L 2292 1309 L 2294 1361 L 2284 1360 Q 2266 1350 2252 1341 L 2246 1339 Z" fill="#8b7355"/>
<path d="M2258 1330 Q 2270 1322 2280 1320 L2282 1350 Q 2268 1346 2258 1340 Z" fill="#6e5a42" opacity="0.6"/>
<ellipse cx="2288" cy="1335" rx="7" ry="26" fill="#3a302a"/>
<ellipse cx="2288" cy="1335" rx="4" ry="21" fill="#777068"/>
<rect x="2289" y="1315" width="24" height="6.5" rx="3" fill="#d6d6d8"/>
<rect x="2289" y="1338" width="24" height="6.5" rx="3" fill="#d6d6d8"/>
</svg>

<div class="sep" style="left:580px;top:134px;height:1212px"></div>
<div class="sep" style="left:1742.2px;top:134px;height:1097px"></div>
<div class="bn" style="left:95px;top:139.5px;width:455px;height:77px;background:#f8f9e7"></div>
<div class="tt" style="left:144px;top:151.8px;color:#e41e26;font-size:54px;transform:scaleX(0.983)">Сентябрь</div>
<div class="ci" style="left:491.5px;top:143.4px"><span class="c1">стр.</span><span class="c2">146</span></div>

<div class="bn" style="left:612px;top:139.5px;width:455px;height:77px;background:#e0f1f8"></div>
<div class="tt" style="left:642.7px;top:151.8px;color:#3a9fb6;font-size:54px;transform:scaleX(0.967)">Октябрь</div>
<div class="ci" style="left:1007.9999999999999px;top:143.6px"><span class="c1">стр.</span><span class="c2">166</span></div>

<div class="bn" style="left:1258.5px;top:139.5px;width:456px;height:77px;background:#f1f9f9"></div>
<div class="tt" style="left:1287.6px;top:151.8px;color:#86bc3a;font-size:54px;transform:scaleX(0.923)">Ноябрь</div>
<div class="ci" style="left:1656.8000000000002px;top:143.4px"><span class="c1">стр.</span><span class="c2">187</span></div>

<div class="bn" style="left:1775.5px;top:139.5px;width:455px;height:77px;background:#f8f9e7"></div>
<div class="tt" style="left:1804px;top:151.8px;color:#1490a8;font-size:54px;transform:scaleX(0.921)">Декабрь</div>
<div class="ci" style="left:2173.0px;top:143.4px"><span class="c1">стр.</span><span class="c2">205</span></div>

<div class="r" style="top:247.00px;left:95px;width:436px"><span class="t k">Как общаются птицы?</span><span class="d"></span><span class="n">146</span></div>
<div class="r" style="top:276.18px;left:95px;width:436px"><span class="t">Какая птица высиживает самые</span></div>
<div class="r" style="top:305.36px;left:95px;width:436px"><span class="t k">крупные яйца?</span><span class="d"></span><span class="n">147</span></div>
<div class="r" style="top:334.54px;left:95px;width:436px"><span class="t k">Зачем птицам перья?</span><span class="d"></span><span class="n">147</span></div>
<div class="r" style="top:363.72px;left:95px;width:436px"><span class="t k">Все ли птицы умеют плавать?</span><span class="d"></span><span class="n">148</span></div>
<div class="r" style="top:392.90px;left:95px;width:436px"><span class="t k">Какая птица самая быстрая?</span><span class="d"></span><span class="n">148</span></div>
<div class="r" style="top:422.08px;left:95px;width:436px"><span class="t k">Почему птицы зимой улетают на юг?</span><span class="d"></span><span class="n">149</span></div>
<div class="r" style="top:451.26px;left:95px;width:436px"><span class="t k">Что такое микроорганизмы?</span><span class="d"></span><span class="n">149</span></div>
<div class="r" style="top:480.44px;left:95px;width:436px"><span class="t">Какое растение на самом деле является</span></div>
<div class="r" style="top:509.62px;left:95px;width:436px"><span class="t k">животным?</span><span class="d"></span><span class="n">150</span></div>
<div class="r" style="top:538.80px;left:95px;width:436px"><span class="t k">Зачем растениям корни?</span><span class="d"></span><span class="n">150</span></div>
<div class="r" style="top:567.98px;left:95px;width:436px"><span class="t k">А для чего растениям листья?</span><span class="d"></span><span class="n">151</span></div>
<div class="r" style="top:597.16px;left:95px;width:436px"><span class="t k">Почему осенью листва меняет цвет?</span><span class="d"></span><span class="n">152</span></div>
<div class="r" style="top:626.34px;left:95px;width:436px"><span class="t">Зачем растениям нужен стебель</span></div>
<div class="r" style="top:655.52px;left:95px;width:436px"><span class="t k">или ствол?</span><span class="d"></span><span class="n">152</span></div>
<div class="r" style="top:684.70px;left:95px;width:436px"><span class="t k">Почему деревья сбрасывают листья?</span><span class="d"></span><span class="n">153</span></div>
<div class="r" style="top:713.88px;left:95px;width:436px"><span class="t k">Зачем растениям цветки?</span><span class="d"></span><span class="n">154</span></div>
<div class="r" style="top:743.06px;left:95px;width:436px"><span class="t k">Откуда берутся семена?</span><span class="d"></span><span class="n">155</span></div>
<div class="r" style="top:772.24px;left:95px;width:436px"><span class="t k">Что нужно семенам для роста?</span><span class="d"></span><span class="n">155</span></div>
<div class="r" style="top:801.42px;left:95px;width:436px"><span class="t k">Как растут семена?</span><span class="d"></span><span class="n">156</span></div>
<div class="r" style="top:830.60px;left:95px;width:436px"><span class="t k">Благодаря чему семена могут летать?</span><span class="d"></span><span class="n">157</span></div>
<div class="r" style="top:859.78px;left:95px;width:436px"><span class="t k">Что такое граница леса?</span><span class="d"></span><span class="n">157</span></div>
<div class="r" style="top:888.96px;left:95px;width:436px"><span class="t k">Какие растения живут в морской воде?</span><span class="d"></span><span class="n">158</span></div>
<div class="r" style="top:918.14px;left:95px;width:436px"><span class="t">Правда ли, что некоторые растения</span></div>
<div class="r" style="top:947.32px;left:95px;width:436px"><span class="t k">опасны?</span><span class="d"></span><span class="n">159</span></div>
<div class="r" style="top:976.50px;left:95px;width:436px"><span class="t k">Какие ловушки имеются у растений?</span><span class="d"></span><span class="n">160</span></div>
<div class="r" style="top:1005.68px;left:95px;width:436px"><span class="t k">Какие растения можно есть?</span><span class="d"></span><span class="n">161</span></div>
<div class="r" style="top:1034.86px;left:95px;width:436px"><span class="t k">Что означает защита растений?</span><span class="d"></span><span class="n">162</span></div>
<div class="r" style="top:1064.04px;left:95px;width:436px"><span class="t k">Как растения помогают нам?</span><span class="d"></span><span class="n">163</span></div>
<div class="r" style="top:1093.22px;left:95px;width:436px"><span class="t">Неужели яблоки, лук и картофель имеют</span></div>
<div class="r" style="top:1122.40px;left:95px;width:436px"><span class="t k">одинаковый вкус?</span><span class="d"></span><span class="n">163</span></div>
<div class="r" style="top:1151.58px;left:95px;width:436px"><span class="t k">Ядовиты ли яблочные косточки?</span><span class="d"></span><span class="n">164</span></div>
<div class="r" style="top:1180.76px;left:95px;width:436px"><span class="t k">Для чего нам нужны брови?</span><span class="d"></span><span class="n">164</span></div>
<div class="r" style="top:1209.94px;left:95px;width:436px"><span class="t">Почему жонглирование полезно</span></div>
<div class="r" style="top:1239.12px;left:95px;width:436px"><span class="t k">для нашего мозга?</span><span class="d"></span><span class="n">165</span></div>
<div class="r" style="top:1268.30px;left:95px;width:436px"><span class="t">У всех ли людей кожа одинакового</span></div>
<div class="r" style="top:1297.48px;left:95px;width:436px"><span class="t k">цвета?</span><span class="d"></span><span class="n">165</span></div>
<div class="r" style="top:247.00px;left:612px;width:436px"><span class="t">Куда попадает еда после того,</span></div>
<div class="r" style="top:276.18px;left:612px;width:436px"><span class="t k">как мы её проглотили?</span><span class="d"></span><span class="n">166</span></div>
<div class="r" style="top:305.36px;left:612px;width:436px"><span class="t">Сколько времени нужно, чтобы пища</span></div>
<div class="r" style="top:334.54px;left:612px;width:436px"><span class="t k">переварилась?</span><span class="d"></span><span class="n">167</span></div>
<div class="r" style="top:363.72px;left:612px;width:436px"><span class="t k">Из чего мы состоим?</span><span class="d"></span><span class="n">167</span></div>
<div class="r" style="top:392.90px;left:612px;width:436px"><span class="t k">Насколько важен позвоночник?</span><span class="d"></span><span class="n">168</span></div>
<div class="r" style="top:422.08px;left:612px;width:436px"><span class="t k">Что делают наши почки?</span><span class="d"></span><span class="n">168</span></div>
<div class="r" style="top:451.26px;left:612px;width:436px"><span class="t">Из чего состоят волосы и ногти и зачем</span></div>
<div class="r" style="top:480.44px;left:612px;width:436px"><span class="t k">они нужны?</span><span class="d"></span><span class="n">169</span></div>
<div class="r" style="top:509.62px;left:612px;width:436px"><span class="t k">Как быстро растут волосы и ногти?</span><span class="d"></span><span class="n">169</span></div>
<div class="r" style="top:538.80px;left:612px;width:436px"><span class="t">Почему стричь волосы и ногти</span></div>
<div class="r" style="top:567.98px;left:612px;width:436px"><span class="t k">не больно?</span><span class="d"></span><span class="n">170</span></div>
<div class="r" style="top:597.16px;left:612px;width:436px"><span class="t k">Что такое икота?</span><span class="d"></span><span class="n">170</span></div>
<div class="r" style="top:626.34px;left:612px;width:436px"><span class="t k">Зачем человеку дышать?</span><span class="d"></span><span class="n">171</span></div>
<div class="r" style="top:655.52px;left:612px;width:436px"><span class="t k">Как мы делаем вдох и выдох?</span><span class="d"></span><span class="n">171</span></div>
<div class="r" style="top:684.70px;left:612px;width:436px"><span class="t k">Как быстро мы дышим?</span><span class="d"></span><span class="n">172</span></div>
<div class="r" style="top:713.88px;left:612px;width:436px"><span class="t k">Почему мы чихаем?</span><span class="d"></span><span class="n">172</span></div>
<div class="r" style="top:743.06px;left:612px;width:436px"><span class="t k">Как устроены наши лёгкие?</span><span class="d"></span><span class="n">173</span></div>
<div class="r" style="top:772.24px;left:612px;width:436px"><span class="t k">Как устроено наше зрение?</span><span class="d"></span><span class="n">174</span></div>
<div class="r" style="top:801.42px;left:612px;width:436px"><span class="t k">Почему мы проливаем слёзы?</span><span class="d"></span><span class="n">175</span></div>
<div class="r" style="top:830.60px;left:612px;width:436px"><span class="t k">Почему наши зрачки меняют размер?</span><span class="d"></span><span class="n">176</span></div>
<div class="r" style="top:859.78px;left:612px;width:436px"><span class="t">Почему у некоторых людей глаза</span></div>
<div class="r" style="top:888.96px;left:612px;width:436px"><span class="t k">разного цвета?</span><span class="d"></span><span class="n">177</span></div>
<div class="r" style="top:918.14px;left:612px;width:436px"><span class="t k">Помогает ли морковь лучше видеть?</span><span class="d"></span><span class="n">177</span></div>
<div class="r" style="top:947.32px;left:612px;width:436px"><span class="t k">Что такое дальтонизм?</span><span class="d"></span><span class="n">178</span></div>
<div class="r" style="top:976.50px;left:612px;width:436px"><span class="t k">Как мы чувствуем запахи?</span><span class="d"></span><span class="n">178</span></div>
<div class="r" style="top:1005.68px;left:612px;width:436px"><span class="t k">Для чего нужен язык?</span><span class="d"></span><span class="n">179</span></div>
<div class="r" style="top:1034.86px;left:612px;width:436px"><span class="t k">Насколько сильно наше обоняние?</span><span class="d"></span><span class="n">180</span></div>
<div class="r" style="top:1064.04px;left:612px;width:436px"><span class="t k">Почему изо рта иногда пахнет?</span><span class="d"></span><span class="n">181</span></div>
<div class="r" style="top:1093.22px;left:612px;width:436px"><span class="t k">Почему мы потеем?</span><span class="d"></span><span class="n">182</span></div>
<div class="r" style="top:1122.40px;left:612px;width:436px"><span class="t">Почему с возрастом у людей появляются</span></div>
<div class="r" style="top:1151.58px;left:612px;width:436px"><span class="t k">морщины?</span><span class="d"></span><span class="n">183</span></div>
<div class="r" style="top:1180.76px;left:612px;width:436px"><span class="t k">Почему нам жарко, когда мы играем?</span><span class="d"></span><span class="n">184</span></div>
<div class="r" style="top:1209.94px;left:612px;width:436px"><span class="t k">Почему пальцы набухают в воде?</span><span class="d"></span><span class="n">184</span></div>
<div class="r" style="top:1239.12px;left:612px;width:436px"><span class="t k">Почему на коже появляются мурашки?</span><span class="d"></span><span class="n">185</span></div>
<div class="r" style="top:1268.30px;left:612px;width:436px"><span class="t">Почему у одних людей волосы прямые,</span></div>
<div class="r" style="top:1297.48px;left:612px;width:436px"><span class="t k">а у других вьющиеся?</span><span class="d"></span><span class="n">185</span></div>
<div class="r" style="top:1326.66px;left:612px;width:436px"><span class="t k">Где находится «смешная кость»?</span><span class="d"></span><span class="n">186</span></div>
<div class="r" style="top:247.00px;left:1258px;width:438px"><span class="t k">Что делают мышцы?</span><span class="d"></span><span class="n">187</span></div>
<div class="r" style="top:276.18px;left:1258px;width:438px"><span class="t k">Как работают разные мышцы?</span><span class="d"></span><span class="n">188</span></div>
<div class="r" style="top:305.36px;left:1258px;width:438px"><span class="t">Что происходит с пищей после того,</span></div>
<div class="r" style="top:334.54px;left:1258px;width:438px"><span class="t k">как мы её съели?</span><span class="d"></span><span class="n">188</span></div>
<div class="r" style="top:363.72px;left:1258px;width:438px"><span class="t k">Для чего нужны зубы?</span><span class="d"></span><span class="n">189</span></div>
<div class="r" style="top:392.90px;left:1258px;width:438px"><span class="t k">А зачем нужна кровь?</span><span class="d"></span><span class="n">189</span></div>
<div class="r" style="top:422.08px;left:1258px;width:438px"><span class="t k">Как работает сердце?</span><span class="d"></span><span class="n">190</span></div>
<div class="r" style="top:451.26px;left:1258px;width:438px"><span class="t k">Где находится наше сердце?</span><span class="d"></span><span class="n">191</span></div>
<div class="r" style="top:480.44px;left:1258px;width:438px"><span class="t">Можем ли мы почувствовать биение</span></div>
<div class="r" style="top:509.62px;left:1258px;width:438px"><span class="t k">собственного сердца?</span><span class="d"></span><span class="n">191</span></div>
<div class="r" style="top:538.80px;left:1258px;width:438px"><span class="t k">Что происходит, когда мы дышим?</span><span class="d"></span><span class="n">192</span></div>
<div class="r" style="top:567.98px;left:1258px;width:438px"><span class="t k">Что заставляет нас зевать?</span><span class="d"></span><span class="n">192</span></div>
<div class="r" style="top:597.16px;left:1258px;width:438px"><span class="t k">Для чего нужна поджелудочная железа?</span><span class="d"></span><span class="n">193</span></div>
<div class="r" style="top:626.34px;left:1258px;width:438px"><span class="t k">Что делает наш мозг?</span><span class="d"></span><span class="n">193</span></div>
<div class="r" style="top:655.52px;left:1258px;width:438px"><span class="t k">Как функционируют наши глаза?</span><span class="d"></span><span class="n">194</span></div>
<div class="r" style="top:684.70px;left:1258px;width:438px"><span class="t k">Как наши уши различают звуки?</span><span class="d"></span><span class="n">194</span></div>
<div class="r" style="top:713.88px;left:1258px;width:438px"><span class="t k">Для чего нужен нос?</span><span class="d"></span><span class="n">195</span></div>
<div class="r" style="top:743.06px;left:1258px;width:438px"><span class="t">Почему мы не чувствуем вкус еды,</span></div>
<div class="r" style="top:772.24px;left:1258px;width:438px"><span class="t k">когда простужены?</span><span class="d"></span><span class="n">195</span></div>
<div class="r" style="top:801.42px;left:1258px;width:438px"><span class="t k">Что такое ветрянка?</span><span class="d"></span><span class="n">196</span></div>
<div class="r" style="top:830.60px;left:1258px;width:438px"><span class="t k">Почему мы иногда болеем?</span><span class="d"></span><span class="n">196</span></div>
<div class="r" style="top:859.78px;left:1258px;width:438px"><span class="t k">Что такое пупок?</span><span class="d"></span><span class="n">197</span></div>
<div class="r" style="top:888.96px;left:1258px;width:438px"><span class="t k">Почему мы спим?</span><span class="d"></span><span class="n">197</span></div>
<div class="r" style="top:918.14px;left:1258px;width:438px"><span class="t k">Почему мы видим сны?</span><span class="d"></span><span class="n">198</span></div>
<div class="r" style="top:947.32px;left:1258px;width:438px"><span class="t k">Что такое лунатизм?</span><span class="d"></span><span class="n">199</span></div>
<div class="r" style="top:976.50px;left:1258px;width:438px"><span class="t k">Что такое часовые пояса?</span><span class="d"></span><span class="n">200</span></div>
<div class="r" style="top:1005.68px;left:1258px;width:438px"><span class="t k">Что такое календарь?</span><span class="d"></span><span class="n">200</span></div>
<div class="r" style="top:1034.86px;left:1258px;width:438px"><span class="t k">Что такое високосный год?</span><span class="d"></span><span class="n">201</span></div>
<div class="r" style="top:1064.04px;left:1258px;width:438px"><span class="t k">Из-за чего меняется погода?</span><span class="d"></span><span class="n">202</span></div>
<div class="r" style="top:1093.22px;left:1258px;width:438px"><span class="t k">Что такое озоновый слой?</span><span class="d"></span><span class="n">202</span></div>
<div class="r" style="top:1122.40px;left:1258px;width:438px"><span class="t k">Чем опасен солнечный свет?</span><span class="d"></span><span class="n">203</span></div>
<div class="r" style="top:1151.58px;left:1258px;width:438px"><span class="t k">Что такое молния?</span><span class="d"></span><span class="n">203</span></div>
<div class="r" style="top:1180.76px;left:1258px;width:438px"><span class="t">Почему мы сначала видим молнию,</span></div>
<div class="r" style="top:1209.94px;left:1258px;width:438px"><span class="t k">а потом слышим гром?</span><span class="d"></span><span class="n">204</span></div>
<div class="r" style="top:247.00px;left:1775px;width:437px"><span class="t k">Почему идёт дождь?</span><span class="d"></span><span class="n">205</span></div>
<div class="r" style="top:276.18px;left:1775px;width:437px"><span class="t k">Что такое туман?</span><span class="d"></span><span class="n">206</span></div>
<div class="r" style="top:305.36px;left:1775px;width:437px"><span class="t k">Когда образуется радуга?</span><span class="d"></span><span class="n">206</span></div>
<div class="r" style="top:334.54px;left:1775px;width:437px"><span class="t k">Почему днём небо голубое?</span><span class="d"></span><span class="n">207</span></div>
<div class="r" style="top:363.72px;left:1775px;width:437px"><span class="t k">Почему на закате небо красное?</span><span class="d"></span><span class="n">207</span></div>
<div class="r" style="top:392.90px;left:1775px;width:437px"><span class="t k">Как различаются времена года?</span><span class="d"></span><span class="n">208</span></div>
<div class="r" style="top:422.08px;left:1775px;width:437px"><span class="t k">Что такое муссон?</span><span class="d"></span><span class="n">208</span></div>
<div class="r" style="top:451.26px;left:1775px;width:437px"><span class="t k">Что такое град?</span><span class="d"></span><span class="n">209</span></div>
<div class="r" style="top:480.44px;left:1775px;width:437px"><span class="t k">Что такое метель?</span><span class="d"></span><span class="n">209</span></div>
<div class="r" style="top:509.62px;left:1775px;width:437px"><span class="t k">Что такое песчаная буря?</span><span class="d"></span><span class="n">210</span></div>
<div class="r" style="top:538.80px;left:1775px;width:437px"><span class="t k">Что такое ураган?</span><span class="d"></span><span class="n">210</span></div>
<div class="r" style="top:567.98px;left:1775px;width:437px"><span class="t k">Что такое смерч?</span><span class="d"></span><span class="n">211</span></div>
<div class="r" style="top:597.16px;left:1775px;width:437px"><span class="t k">Отчего возникает цунами?</span><span class="d"></span><span class="n">211</span></div>
<div class="r" style="top:626.34px;left:1775px;width:437px"><span class="t k">Что такое ливень?</span><span class="d"></span><span class="n">212</span></div>
<div class="r" style="top:655.52px;left:1775px;width:437px"><span class="t">Какой поезд первым начал перевозить</span></div>
<div class="r" style="top:684.70px;left:1775px;width:437px"><span class="t k">пассажиров?</span><span class="d"></span><span class="n">212</span></div>
<div class="r" style="top:713.88px;left:1775px;width:437px"><span class="t k">Что такое локомотив?</span><span class="d"></span><span class="n">213</span></div>
<div class="r" style="top:743.06px;left:1775px;width:437px"><span class="t k">Какая железная дорога самая длинная?</span><span class="d"></span><span class="n">213</span></div>
<div class="r" style="top:772.24px;left:1775px;width:437px"><span class="t k">Что такое канатная дорога?</span><span class="d"></span><span class="n">214</span></div>
<div class="r" style="top:801.42px;left:1775px;width:437px"><span class="t k">Что такое высокоскоростной поезд?</span><span class="d"></span><span class="n">214</span></div>
<div class="r" style="top:830.60px;left:1775px;width:437px"><span class="t k">Могут ли автомобили работать на пару?</span><span class="d"></span><span class="n">215</span></div>
<div class="r" style="top:859.78px;left:1775px;width:437px"><span class="t k">Какое топливо используют автомобили?</span><span class="d"></span><span class="n">216</span></div>
<div class="r" style="top:888.96px;left:1775px;width:437px"><span class="t k">Что такое электромобиль?</span><span class="d"></span><span class="n">217</span></div>
<div class="r" style="top:918.14px;left:1775px;width:437px"><span class="t">Кто первым в одиночку перелетел</span></div>
<div class="r" style="top:947.32px;left:1775px;width:437px"><span class="t k">Атлантический океан?</span><span class="d"></span><span class="n">218</span></div>
<div class="r" style="top:976.50px;left:1775px;width:437px"><span class="t k" style="letter-spacing:-0.5px">Насколько высоко могут летать самолёты?</span><span class="d"></span><span class="n">219</span></div>
<div class="r" style="top:1005.68px;left:1775px;width:437px"><span class="t k">Какой авиалайнер самый быстрый?</span><span class="d"></span><span class="n">219</span></div>
<div class="r" style="top:1034.86px;left:1775px;width:437px"><span class="t k">Как далеко могут летать авиалайнеры?</span><span class="d"></span><span class="n">220</span></div>
<div class="r" style="top:1064.04px;left:1775px;width:437px"><span class="t k" style="letter-spacing:-0.55px">Кто первым перелетел через Тихий океан?</span><span class="d"></span><span class="n">220</span></div>
<div class="r" style="top:1093.22px;left:1775px;width:437px"><span class="t k">Что такое компьютерная сеть?</span><span class="d"></span><span class="n">221</span></div>
<div class="r" style="top:1122.40px;left:1775px;width:437px"><span class="t k">Что такое www?</span><span class="d"></span><span class="n">222</span></div>
<div class="r" style="top:1151.58px;left:1775px;width:437px"><span class="t k">Что такое веб-сайт?</span><span class="d"></span><span class="n">222</span></div>
<div class="r" style="top:1180.76px;left:1775px;width:437px"><span class="t k">Что такое беспроводная сеть?</span><span class="d"></span><span class="n">223</span></div>
</body></html>
